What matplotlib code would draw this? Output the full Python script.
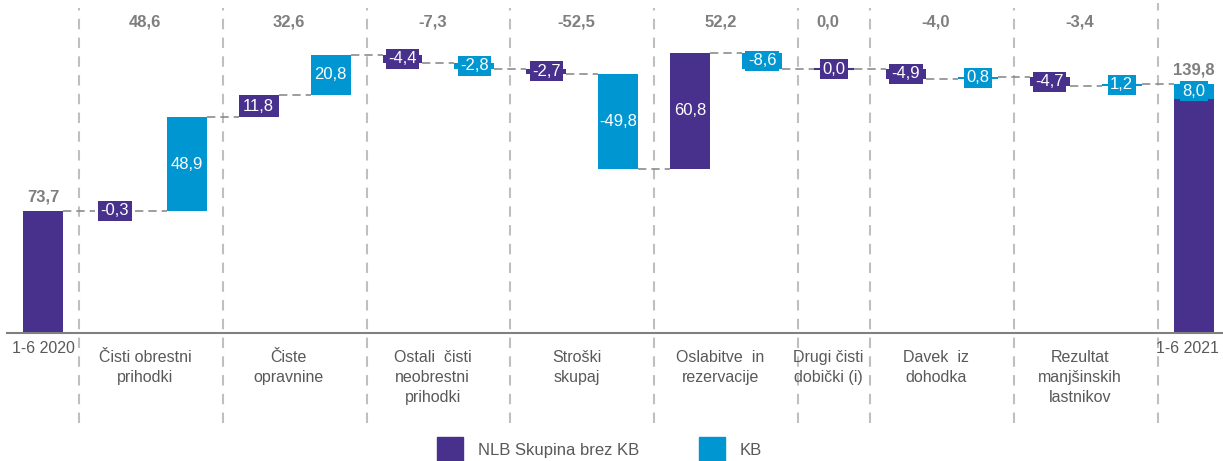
import matplotlib.pyplot as plt
import matplotlib.transforms as mtransforms
from matplotlib.patches import Patch

plt.rcParams['font.family'] = ['Liberation Sans', 'DejaVu Sans']

# podatki (mio EUR)
start_label = '1-6 2020'
end_label = '1-6 2021'
start_value = 73.7
nlb_end = 131.8
kb_end = 8.0

group_names = ['Čisti obrestni\nprihodki', 'Čiste\nopravnine',
               'Ostali  čisti\nneobrestni\nprihodki', 'Stroški\nskupaj',
               'Oslabitve  in\nrezervacije', 'Drugi čisti\ndobički (i)',
               'Davek  iz\ndohodka', 'Rezultat\nmanjšinskih\nlastnikov']
group_totals = [48.6, 32.6, -7.3, -52.5, 52.2, 0.0, -4.0, -3.4]
nlb_changes = [-0.3, 11.8, -4.4, -2.7, 60.8, 0.0, -4.9, -4.7]
kb_changes = [48.9, 20.8, -2.8, -49.8, -8.6, None, 0.8, 1.2]

purple = '#48308d'
blue = '#0096d1'
grey_txt = '#595959'
grey_tot = '#7f7f7f'


def fmt(v):
    return f"{v:.1f}".replace('.', ',')


fig = plt.figure(figsize=(12.23, 4.61), dpi=100)
ax = fig.add_axes([7 / 1223, 128 / 461, 1 - 7 / 1223, 333 / 461])
ax.set_xlim(-0.5, 16.41)
ax.set_ylim(10, 183.4)
w = 0.556

# zaporedje korakov
steps = []
group_slots = []
slot = 1
for n, k in zip(nlb_changes, kb_changes):
    s = [slot]
    steps.append((n, purple))
    slot += 1
    if k is not None:
        steps.append((k, blue))
        s.append(slot)
        slot += 1
    group_slots.append(s)
end_slot = slot

# začetni stolpec
ax.bar(0, start_value, width=w, color=purple)
ax.text(0, start_value + 3, fmt(start_value), ha='center', va='bottom',
        fontsize=12, fontweight='bold', color=grey_tot)

level = start_value
prev_x = 0
for i, (v, c) in enumerate(steps):
    x = i + 1
    ax.plot([prev_x + w / 2, x - w / 2], [level, level], color='#8c8c8c',
            lw=1.2, ls=(0, (5, 3)), zorder=1)
    bottom = level if v >= 0 else level + v
    ax.bar(x, abs(v), bottom=bottom, width=w, color=c, zorder=2,
           linewidth=0 if v != 0 else 1.5, edgecolor=c)
    # majhni stolpci dobijo oznako v okvirčku
    box = dict(boxstyle='square,pad=0.15', fc=c, ec='none') if abs(v) < 10 else None
    ax.text(x, bottom + abs(v) / 2, fmt(v), ha='center', va='center',
            fontsize=12, color='white', zorder=3, bbox=box)
    level += v
    prev_x = x

# končni stolpec
ax.plot([prev_x + w / 2, end_slot - w / 2], [level, level], color='#8c8c8c',
        lw=1.2, ls=(0, (5, 3)), zorder=1)
ax.bar(end_slot, nlb_end, width=w, color=purple, zorder=2)
ax.bar(end_slot, kb_end, bottom=nlb_end, width=w, color=blue, zorder=2)
ax.text(end_slot, nlb_end + kb_end / 2, fmt(kb_end), ha='center', va='center',
        fontsize=12, color='white', zorder=3,
        bbox=dict(boxstyle='square,pad=0.15', fc=blue, ec='none'))
ax.text(end_slot, nlb_end + kb_end + 3, fmt(nlb_end + kb_end), ha='center',
        va='bottom', fontsize=12, fontweight='bold', color=grey_tot)

# ločnice in oznake skupin
trans = mtransforms.blended_transform_factory(ax.transData, ax.transAxes)
for s, name, tot in zip(group_slots, group_names, group_totals):
    sep = s[0] - 0.5
    ax.plot([sep, sep], [-0.27, 0.975], transform=trans, clip_on=False,
            color='#bfbfbf', lw=1.5, ls=(0, (5, 4)), zorder=0)
    cx = sum(s) / len(s) - 0.08
    ax.text(cx, 0.935, fmt(tot), transform=trans, ha='center', va='center',
            fontsize=12, fontweight='bold', color=grey_tot)
    ax.text(cx, -0.05, name, transform=trans, ha='center', va='top',
            fontsize=11.5, color=grey_txt, linespacing=1.42)
sep = end_slot - 0.5
ax.plot([sep, sep], [-0.27, 0.99], transform=trans, clip_on=False,
        color='#bfbfbf', lw=1.5, ls=(0, (5, 4)), zorder=0)

ax.text(0, -0.025, start_label, transform=trans, ha='center', va='top',
        fontsize=11.5, color=grey_txt)
ax.text(0.997, -0.025, end_label, transform=ax.transAxes, ha='right',
        va='top', fontsize=11.5, color=grey_txt)

for sp in ['top', 'left', 'right']:
    ax.spines[sp].set_visible(False)
ax.spines['bottom'].set_color('#808080')
ax.spines['bottom'].set_linewidth(1.5)
ax.set_xticks([])
ax.set_yticks([])

handles = [Patch(color=purple, label='NLB Skupina brez KB'),
           Patch(color=blue, label='KB')]
fig.legend(handles=handles, loc='upper left',
           bbox_to_anchor=(437 / 1223, 1 - 437 / 461), ncol=2, frameon=False,
           fontsize=12, labelcolor=grey_txt, handlelength=1.55,
           handleheight=2.0, handletextpad=0.9, columnspacing=3.6,
           borderpad=0, borderaxespad=0)

fig.savefig('out.png', dpi=100)
